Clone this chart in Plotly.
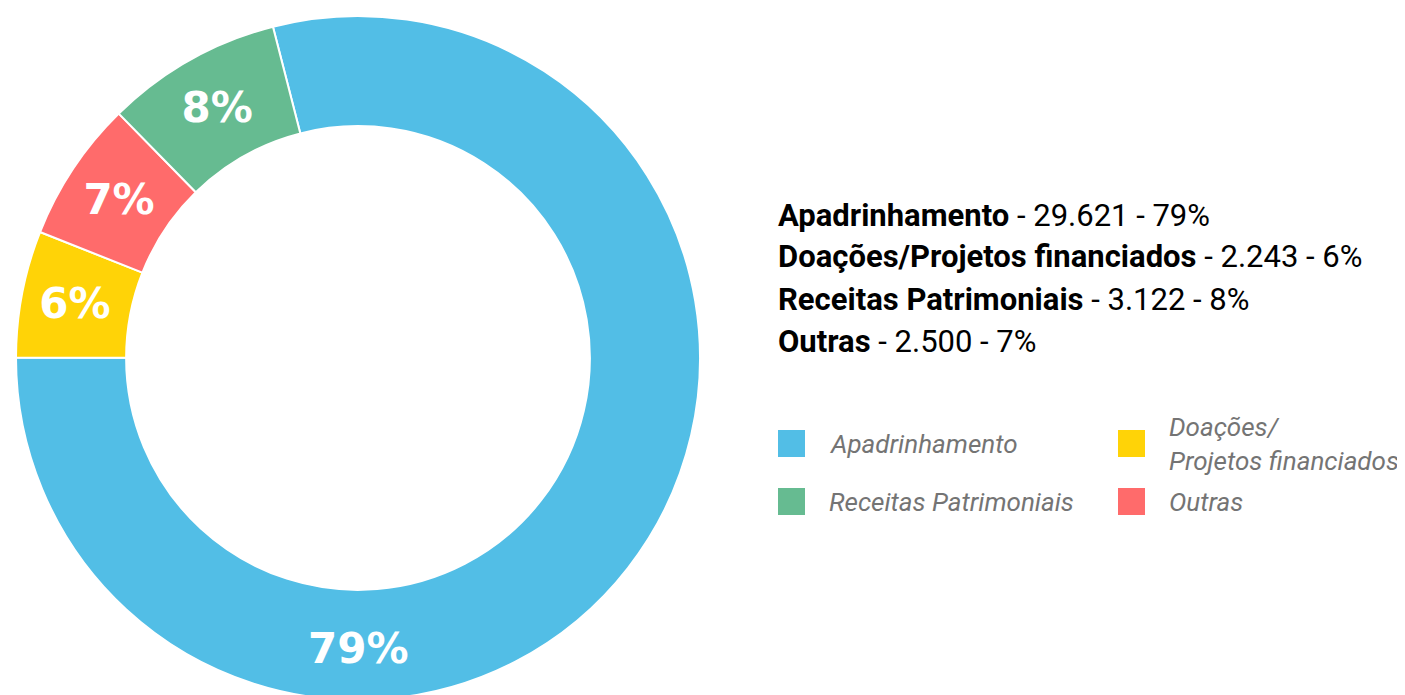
import plotly.graph_objects as go

# ---- data ----
labels = ["Apadrinhamento", "Doações/Projetos financiados", "Outras", "Receitas Patrimoniais"]
values = [29621, 2243, 2500, 3122]
colors = ["#52BEE6", "#FFD307", "#FF6B6B", "#66BB91"]

summary_order = ["Apadrinhamento", "Doações/Projetos financiados", "Receitas Patrimoniais", "Outras"]
legend_order = ["Apadrinhamento", "Doações/Projetos financiados", "Receitas Patrimoniais", "Outras"]
legend_text = {
    "Apadrinhamento": "Apadrinhamento",
    "Doações/Projetos financiados": "Doações/<br>Projetos financiados",
    "Receitas Patrimoniais": "Receitas Patrimoniais",
    "Outras": "Outras",
}

W, H = 1405, 700
OX, OY = 8, 8  # page body margin
total = sum(values)


def px(x):
    return (x - OX) / W


def py(y):
    return 1 - (y - OY) / H


CX, CY, R, HOLE = 358, 358, 342, 0.678
LABEL_FONT = dict(family="DejaVu Sans, Lato, sans-serif", size=42, color="white", weight="bold")

fig = go.Figure()
# the largest slice's label is drawn separately at the bottom of the ring
templates = [""] + ["%{percent:.0%}"] * (len(values) - 1)
fig.add_trace(go.Pie(
    labels=labels,
    values=values,
    sort=False,
    direction="clockwise",
    rotation=-14.4,
    hole=HOLE,
    marker=dict(colors=colors, line=dict(color="white", width=2)),
    texttemplate=templates,
    textposition="inside",
    insidetextorientation="horizontal",
    insidetextfont=LABEL_FONT,
    domain=dict(x=[px(CX - R), px(CX + R)], y=[0, 1]),
    showlegend=False,
    hoverinfo="label+value+percent",
))

mid_r = R * (1 + HOLE) / 2
fig.add_annotation(
    x=px(CX), y=py(CY + mid_r + 4), xref="paper", yref="paper",
    xanchor="center", yanchor="middle", showarrow=False,
    text=f"{round(100 * values[0] / total)}%", font=LABEL_FONT,
)

# summary text lines
col = dict(zip(labels, colors))
val = dict(zip(labels, values))
line_y = [215, 257, 299, 342]
for name, yy in zip(summary_order, line_y):
    v = val[name]
    txt = f"<b>{name}</b> - {v:,}".replace(",", ".") + f" - {round(100 * v / total)}%"
    fig.add_annotation(
        x=px(776), y=py(yy), xref="paper", yref="paper",
        xanchor="left", yanchor="middle", showarrow=False,
        text=txt, align="left",
        font=dict(family="Roboto, sans-serif", size=31, color="#000000"),
    )

# manual legend (2 columns)
leg_pos = [(778, 443.5), (1118, 443.5), (778, 501.5), (1118, 501.5)]
for name, (lx, ly) in zip(legend_order, leg_pos):
    fig.add_shape(
        type="rect", xref="paper", yref="paper",
        x0=px(lx), x1=px(lx + 27), y0=py(ly - 13.5), y1=py(ly + 13.5),
        fillcolor=col[name], line=dict(width=0),
    )
    fig.add_annotation(
        x=px(lx + 49), y=py(ly), xref="paper", yref="paper",
        xanchor="left", yanchor="middle", showarrow=False,
        text=legend_text[name], align="left",
        font=dict(family="Roboto, sans-serif", size=26, color="#747474", style="italic", weight=400),
    )

fig.update_layout(
    width=W, height=H,
    margin=dict(l=0, r=0, t=0, b=0),
    paper_bgcolor="white", plot_bgcolor="white",
)

fig.write_html("out.html")
